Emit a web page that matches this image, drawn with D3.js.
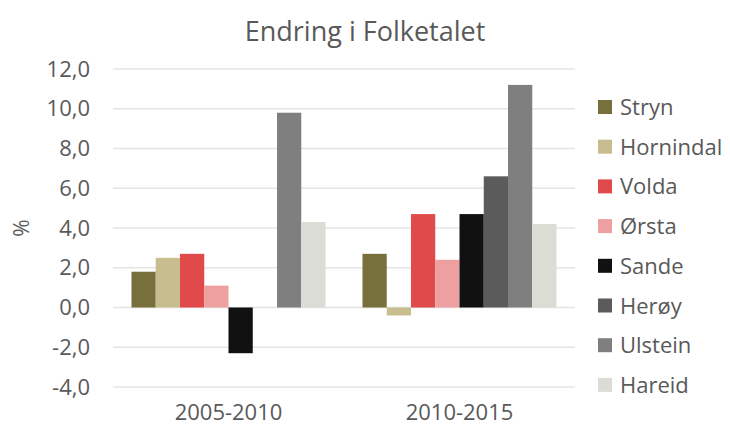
<!DOCTYPE html>
<html>
<head>
<meta charset="utf-8">
<script src="https://cdn.jsdelivr.net/npm/d3@7"></script>
<style>
  body { margin: 0; background: #fff; }
  text { font-family: "Open Sans", sans-serif; fill: #595959; }
</style>
</head>
<body>
<script>
// data
var periods = ["2005-2010", "2010-2015"];
var kommunar = ["Stryn", "Hornindal", "Volda", "Ørsta", "Sande", "Herøy", "Ulstein", "Hareid"];
var colours = ["#77703d", "#c8bd8f", "#e04a4a", "#ee9f9f", "#111111", "#5b5b5b", "#7f7f7f", "#dcdcd7"];
var values_2005_2010 = [1.8, 2.5, 2.7, 1.1, -2.3, 0, 9.8, 4.3];
var values_2010_2015 = [2.7, -0.4, 4.7, 2.4, 4.7, 6.6, 11.2, 4.2];
var y_ticks = [-4, -2, 0, 2, 4, 6, 8, 10, 12];

var w = 730, h = 434;
var margin = {top: 69, right: 155, bottom: 47, left: 113};

var svg = d3.select("body").append("svg")
  .attr("width", w)
  .attr("height", h);

//build rows: one per period with values per kommune
var rows = periods.map(function(p, i) {
  var vals = i === 0 ? values_2005_2010 : values_2010_2015;
  return {period: p, values: kommunar.map(function(k, j) { return {name: k, value: vals[j], colour: colours[j]}; })};
});

var x0 = d3.scaleBand()
  .domain(periods)
  .range([margin.left, w - margin.right])
  .paddingInner(0.16)
  .paddingOuter(0.08);

var x1 = d3.scaleBand()
  .domain(kommunar)
  .range([0, x0.bandwidth()]);

var y = d3.scaleLinear()
  .domain([-4, 12])
  .range([h - margin.bottom, margin.top]);

//gridlines
svg.append("g")
  .selectAll("line")
  .data(y_ticks)
  .enter().append("line")
  .attr("x1", margin.left)
  .attr("x2", w - margin.right)
  .attr("y1", function(d) { return y(d); })
  .attr("y2", function(d) { return y(d); })
  .style("stroke", "#e4e4e4")
  .style("stroke-width", 1.5);

//y axis labels
var y_axis = d3.axisLeft(y)
  .tickValues(y_ticks)
  .tickSize(0)
  .tickPadding(23)
  .tickFormat(function(d) { return d3.format(".1f")(d).replace(".", ",").replace("−", "-"); });

svg.append("g")
  .attr("transform", "translate(" + margin.left + ",0)")
  .call(y_axis)
  .call(function(g) { g.select(".domain").remove(); })
  .selectAll("text")
  .style("font-family", "'Open Sans', sans-serif")
  .style("font-size", "22px")
  .style("fill", "#595959");

//x axis labels
var x_axis = d3.axisBottom(x0).tickSize(0).tickPadding(17);
svg.append("g")
  .attr("transform", "translate(0," + y(-4) + ")")
  .call(x_axis)
  .call(function(g) { g.select(".domain").remove(); })
  .selectAll("text")
  .style("font-family", "'Open Sans', sans-serif")
  .style("font-size", "22px")
  .style("fill", "#595959");

//bars
var groups = svg.selectAll(".group")
  .data(rows)
  .enter().append("g")
  .attr("class", "group")
  .attr("transform", function(d) { return "translate(" + x0(d.period) + ",0)"; });

groups.selectAll("rect")
  .data(function(d) { return d.values; })
  .enter().append("rect")
  .attr("x", function(d) { return x1(d.name); })
  .attr("width", x1.bandwidth())
  .attr("y", function(d) { return y(Math.max(0, d.value)); })
  .attr("height", function(d) { return Math.abs(y(d.value) - y(0)); })
  .style("fill", function(d) { return d.colour; });

//title
svg.append("text")
  .attr("x", 365)
  .attr("y", 41)
  .style("text-anchor", "middle")
  .style("font-size", "27px")
  .text("Endring i Folketalet");

//y label
svg.append("text")
  .attr("transform", "translate(29," + y(4) + ") rotate(-90)")
  .style("text-anchor", "middle")
  .style("font-size", "21px")
  .text("%");

//legend
var legend = svg.selectAll(".legend")
  .data(kommunar)
  .enter().append("g")
  .attr("class", "legend")
  .attr("transform", function(d, i) { return "translate(598," + (107 + i * 39.7) + ")"; });

legend.append("rect")
  .attr("y", -7)
  .attr("width", 14)
  .attr("height", 14)
  .style("fill", function(d, i) { return colours[i]; });

legend.append("text")
  .attr("x", 22)
  .attr("y", 8)
  .style("font-size", "22px")
  .text(function(d) { return d; });
</script>
</body>
</html>
